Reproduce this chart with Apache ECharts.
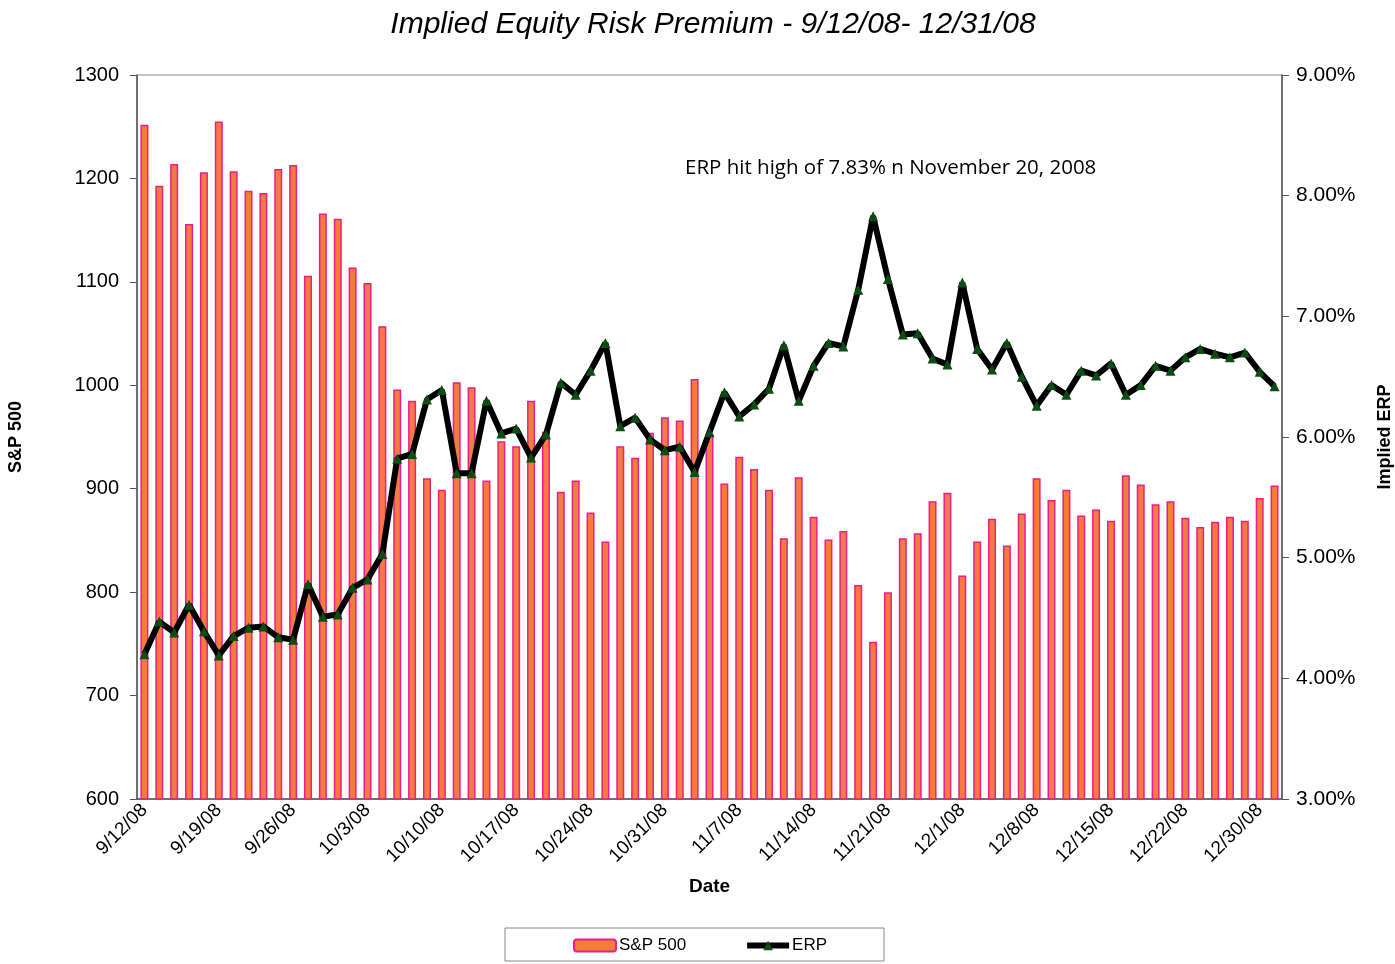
<!DOCTYPE html>
<html>
<head>
<meta charset="utf-8">
<title>Implied Equity Risk Premium</title>
<script src="https://cdn.jsdelivr.net/npm/echarts@6/dist/echarts.min.js"></script>
<style>
  html, body { margin: 0; padding: 0; background: #fff; }
  #chart { width: 1395px; height: 964px; }
</style>
</head>
<body>
<div id="chart"></div>
<script>
const dates = [
  "9/12/08", "9/15/08", "9/16/08", "9/17/08", "9/18/08", "9/19/08", "9/22/08", "9/23/08", "9/24/08", "9/25/08",
  "9/26/08", "9/29/08", "9/30/08", "10/1/08", "10/2/08", "10/3/08", "10/6/08", "10/7/08", "10/8/08", "10/9/08",
  "10/10/08", "10/13/08", "10/14/08", "10/15/08", "10/16/08", "10/17/08", "10/20/08", "10/21/08", "10/22/08", "10/23/08",
  "10/24/08", "10/27/08", "10/28/08", "10/29/08", "10/30/08", "10/31/08", "11/3/08", "11/4/08", "11/5/08", "11/6/08",
  "11/7/08", "11/10/08", "11/11/08", "11/12/08", "11/13/08", "11/14/08", "11/17/08", "11/18/08", "11/19/08", "11/20/08",
  "11/21/08", "11/24/08", "11/25/08", "11/26/08", "11/28/08", "12/1/08", "12/2/08", "12/3/08", "12/4/08", "12/5/08",
  "12/8/08", "12/9/08", "12/10/08", "12/11/08", "12/12/08", "12/15/08", "12/16/08", "12/17/08", "12/18/08", "12/19/08",
  "12/22/08", "12/23/08", "12/24/08", "12/26/08", "12/29/08", "12/30/08", "12/31/08"
];

const sp500 = [
  1252, 1193, 1214, 1156, 1206, 1255, 1207, 1188, 1186, 1209,
  1213, 1106, 1166, 1161, 1114, 1099, 1057, 996, 985, 910,
  899, 1003, 998, 908, 946, 941, 985, 955, 897, 908,
  877, 849, 941, 930, 954, 969, 966, 1006, 953, 905,
  931, 919, 899, 852, 911, 873, 851, 859, 807, 752,
  800, 852, 857, 888, 896, 816, 849, 871, 845, 876,
  910, 889, 899, 874, 880, 869, 913, 904, 885, 888,
  872, 863, 868, 873, 869, 891, 903
];

// implied ERP, in percent
const erp = [
  4.20, 4.47, 4.38, 4.61, 4.39, 4.19, 4.35, 4.42, 4.43, 4.34,
  4.32, 4.78, 4.51, 4.53, 4.75, 4.82, 5.03, 5.82, 5.86, 6.31,
  6.39, 5.70, 5.70, 6.30, 6.03, 6.07, 5.83, 6.02, 6.45, 6.35,
  6.55, 6.78, 6.09, 6.16, 5.98, 5.89, 5.92, 5.71, 6.04, 6.37,
  6.17, 6.27, 6.40, 6.76, 6.30, 6.59, 6.78, 6.75, 7.22, 7.83,
  7.31, 6.85, 6.86, 6.65, 6.60, 7.28, 6.73, 6.56, 6.78, 6.50,
  6.26, 6.43, 6.35, 6.55, 6.51, 6.61, 6.35, 6.43, 6.59, 6.55,
  6.66, 6.73, 6.69, 6.66, 6.70, 6.54, 6.42
];

const titleText = "Implied Equity Risk Premium - 9/12/08- 12/31/08";
const noteText = "ERP hit high of 7.83% n November 20, 2008";

const font = "'Liberation Sans', Arial, sans-serif";
const axisColor = "#555";

const chart = echarts.init(document.getElementById("chart"));
chart.setOption({
  animation: false,
  textStyle: { fontFamily: font, color: "#000" },
  title: {
    text: titleText,
    left: 708,
    textAlign: "center",
    top: 5,
    textStyle: { fontFamily: font, fontSize: 30, fontStyle: "italic", fontWeight: "normal", color: "#000" },
  },
  grid: {
    left: 137, right: 113, top: 75, bottom: 165,
    outerBoundsMode: "none",
    containLabel: false,
    show: true, borderColor: "#888", borderWidth: 1, backgroundColor: "transparent",
  },
  legend: {
    left: 568,
    top: 932,
    itemWidth: 42,
    itemHeight: 12,
    itemGap: 58,
    textStyle: { fontFamily: font, fontSize: 17, color: "#000", padding: [0, 0, 0, -2] },
    data: [
      { name: "S&P 500" },
      { name: "ERP", lineStyle: { width: 6, color: "#000" } },
    ],
  },
  graphic: [
    {
      type: "rect",
      shape: { x: 505, y: 928, width: 379, height: 33 },
      style: { fill: "transparent", stroke: "#888", lineWidth: 1 },
      silent: true,
    },
    {
      type: "text",
      left: 685,
      top: 158,
      style: { text: noteText, fontFamily: "'Open Sans', 'Noto Sans', sans-serif", fontSize: 20.5, fill: "#000" },
    },
  ],
  xAxis: {
    type: "category",
    data: dates,
    boundaryGap: true,
    name: "Date",
    nameLocation: "middle",
    nameGap: 78,
    nameTextStyle: { fontFamily: font, fontSize: 19, fontWeight: "bold", color: "#000" },
    axisLine: { lineStyle: { color: axisColor, width: 1.5 } },
    axisTick: { interval: 0, length: 6, lineStyle: { color: axisColor } },
    axisLabel: { interval: 4, rotate: 45, fontSize: 19, color: "#000", fontFamily: font, margin: 8 },
  },
  yAxis: [
    {
      type: "value",
      min: 600,
      max: 1300,
      interval: 100,
      name: "S&P 500",
      nameLocation: "middle",
      nameGap: 112,
      nameRotate: 90,
      nameTextStyle: { fontFamily: font, fontSize: 18, fontWeight: "bold", color: "#000" },
      axisLine: { show: true, lineStyle: { color: axisColor, width: 1.5 } },
      axisTick: { show: true, length: 7, lineStyle: { color: axisColor } },
      axisLabel: {
        fontSize: 20, color: "#000", fontFamily: font, margin: 18,
        formatter(value) { return String(value); },
      },
      splitLine: { show: false },
    },
    {
      type: "value",
      min: 3,
      max: 9,
      interval: 1,
      name: "Implied ERP",
      nameLocation: "middle",
      nameGap: 94,
      nameRotate: 90,
      nameTextStyle: { fontFamily: font, fontSize: 18, fontWeight: "bold", color: "#000" },
      axisLine: { show: true, lineStyle: { color: axisColor, width: 1.5 } },
      axisTick: { show: true, length: 7, lineStyle: { color: axisColor } },
      axisLabel: {
        fontSize: 21, color: "#000", fontFamily: font, margin: 14,
        formatter(value) { return value.toFixed(2) + "%"; },
      },
      splitLine: { show: false },
    },
  ],
  series: [
    {
      name: "S&P 500",
      type: "bar",
      yAxisIndex: 0,
      barWidth: 8,
      itemStyle: { color: "#f47c3c", borderColor: "#ec1d8c", borderWidth: 1.5 },
      data: sp500,
    },
    {
      name: "ERP",
      type: "line",
      yAxisIndex: 1,
      symbol: "triangle",
      symbolSize: 10,
      showAllSymbol: true,
      lineStyle: { color: "#000", width: 6 },
      itemStyle: { color: "#0b4d12", borderColor: "#0b4d12", borderWidth: 0 },
      z: 3,
      data: erp,
    },
  ],
});
</script>
</body>
</html>
